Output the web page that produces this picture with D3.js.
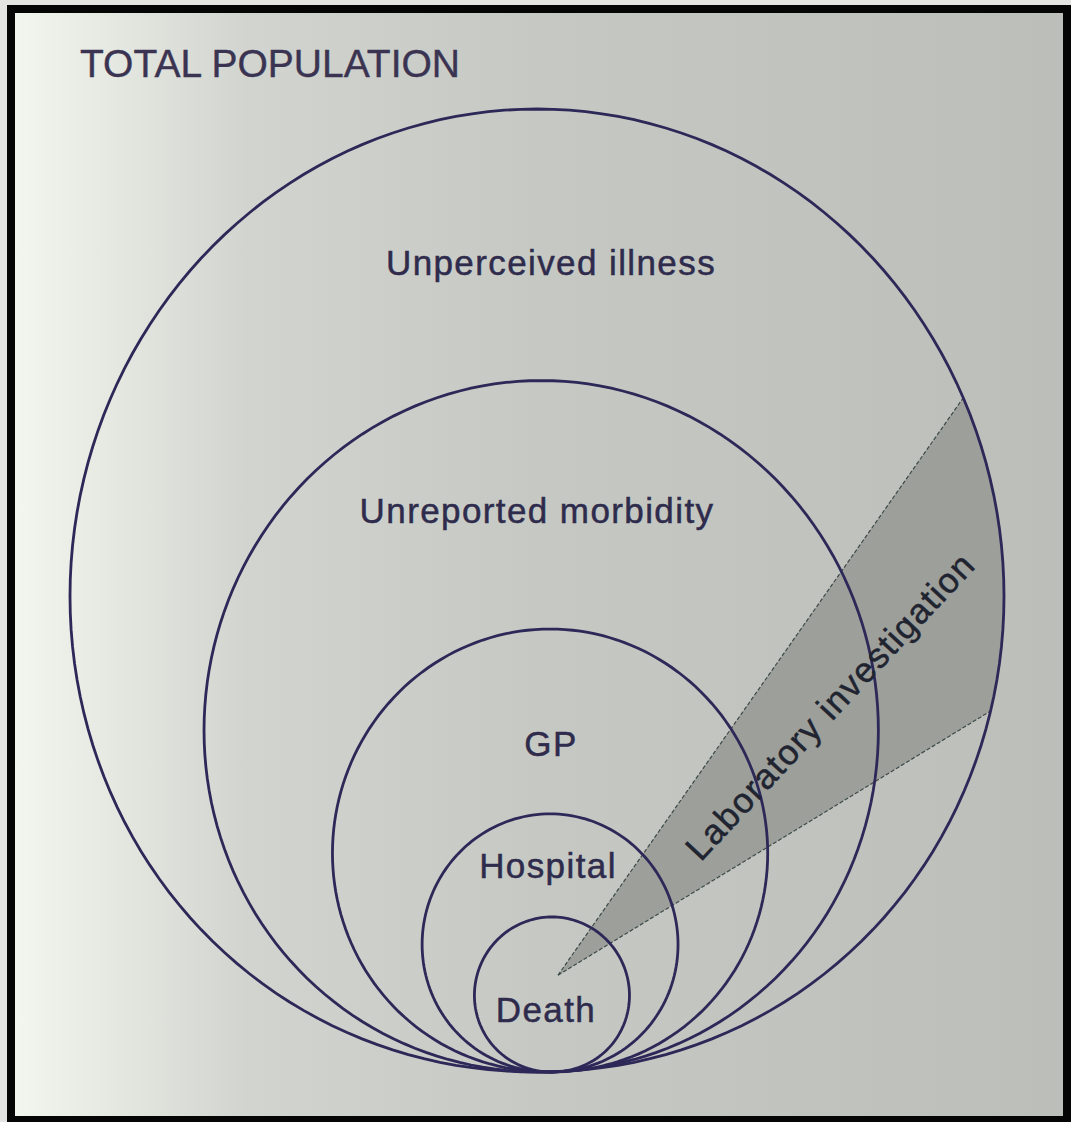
<!DOCTYPE html>
<html>
<head>
<meta charset="utf-8">
<script src="https://cdn.jsdelivr.net/npm/d3@7"></script>
<style>
  body { margin: 0; background: #e4e5e2; }
  svg { display: block; }
</style>
</head>
<body>
<svg id="chart"></svg>
<script>
// Rings of the iceberg diagram, all touching at the bottom
var ringLabels = ["Unperceived illness", "Unreported morbidity", "GP", "Hospital", "Death"];
var ringRadii = [1.0, 0.722, 0.466, 0.274, 0.166];      // relative to outer ring
var ringOffsets = [0, 0.009, 0.028, 0.028, 0.032];      // horizontal shift of centres

var titleText = "TOTAL POPULATION";
var wedgeLabel = "Laboratory investigation";
// wedge: apex and the two points where it meets the outer ring (diagram units)
var wedgeApex = [0.045, 0.209];
var wedgeRim = [[0.927, 1.428], [0.998, 0.778]];

var width = 1071, height = 1122;
var svg = d3.select("#chart").attr("width", width).attr("height", height);

// photo frame and paper
svg.append("rect").attr("x", 7).attr("y", 5).attr("width", 1064).attr("height", 1117).attr("fill", "#050505");
var grad = svg.append("defs").append("linearGradient").attr("id", "paper");
grad.append("stop").attr("offset", "0%").attr("stop-color", "#f3f5ef");
grad.append("stop").attr("offset", "9%").attr("stop-color", "#e6e9e2");
grad.append("stop").attr("offset", "22%").attr("stop-color", "#d2d5cf");
grad.append("stop").attr("offset", "50%").attr("stop-color", "#c6c9c3");
grad.append("stop").attr("offset", "100%").attr("stop-color", "#bbbeb9");
svg.append("rect").attr("x", 15).attr("y", 13).attr("width", 1048).attr("height", 1103).attr("fill", "url(#paper)");

// scales: diagram units -> pixels (slight vertical stretch from the photo)
var x = d3.scaleLinear().domain([-1, 1]).range([70, 1004]);
var y = d3.scalePow().exponent(1.017).domain([0, 2]).range([1072, 109]);

var line = d3.line().curve(d3.curveLinearClosed);
function ringPath(r, off) {
    var pts = d3.range(0, 360, 2).map(function(a) {
        var t = a * Math.PI / 180;
        return [x(off + r * Math.cos(t)), y(r + r * Math.sin(t))];
    });
    return line(pts);
}

var defs = svg.select("defs");
defs.append("clipPath").attr("id", "outer")
    .append("path").attr("d", ringPath(ringRadii[0], ringOffsets[0]));

// wedge for laboratory investigation
var ax = x(wedgeApex[0]), ay = y(wedgeApex[1]);
var far = wedgeRim.map(function(p) {
    var px = x(p[0]), py = y(p[1]);
    return [ax + (px - ax) * 1.3, ay + (py - ay) * 1.3];
});
var wedge = svg.append("g").attr("clip-path", "url(#outer)");
wedge.append("path")
    .attr("d", "M" + ax + "," + ay + "L" + far[0].join(",") + "L" + far[1].join(",") + "Z")
    .attr("fill", "#9c9f9a");
far.forEach(function(f) {
    wedge.append("line")
        .attr("x1", ax).attr("y1", ay).attr("x2", f[0]).attr("y2", f[1])
        .attr("stroke", "#3d4a4a").attr("stroke-width", 1.2)
        .attr("stroke-dasharray", "4,2");
});

// rings
svg.selectAll(".ring")
    .data(ringRadii)
    .enter().append("path")
    .attr("class", "ring")
    .attr("d", function(d, i) { return ringPath(d, ringOffsets[i]); })
    .attr("fill", "none")
    .attr("stroke", "#2c2858")
    .attr("stroke-width", 2.8);

// labels
var labelX = [551, 537, 551, 548, 546];
var labelY = [275, 523, 756, 878, 1022];
svg.selectAll(".ring-label")
    .data(ringLabels)
    .enter().append("text")
    .attr("class", "ring-label")
    .attr("x", function(d, i) { return labelX[i]; })
    .attr("y", function(d, i) { return labelY[i]; })
    .attr("text-anchor", "middle")
    .style("font-family", "Liberation Sans, Arial, sans-serif")
    .style("font-size", "35px")
    .style("letter-spacing", "1.4px")
    .attr("fill", "#2e2b4c")
    .attr("stroke", "#2e2b4c")
    .attr("stroke-width", 0.5)
    .text(function(d) { return d; });

svg.append("text")
    .attr("x", 80).attr("y", 77)
    .style("font-family", "Liberation Sans, Arial, sans-serif")
    .style("font-size", "39px")
    .attr("fill", "#3a3452")
    .attr("stroke", "#3a3452")
    .attr("stroke-width", 0.4)
    .text(titleText);

svg.append("text")
    .attr("transform", "translate(830,706) rotate(-47)")
    .attr("text-anchor", "middle")
    .attr("dy", "0.35em")
    .style("font-family", "Liberation Sans, Arial, sans-serif")
    .style("font-size", "35px")
    .style("letter-spacing", "1.4px")
    .attr("fill", "#1f2430")
    .attr("stroke", "#1f2430")
    .attr("stroke-width", 0.5)
    .text(wedgeLabel);
</script>
</body>
</html>
